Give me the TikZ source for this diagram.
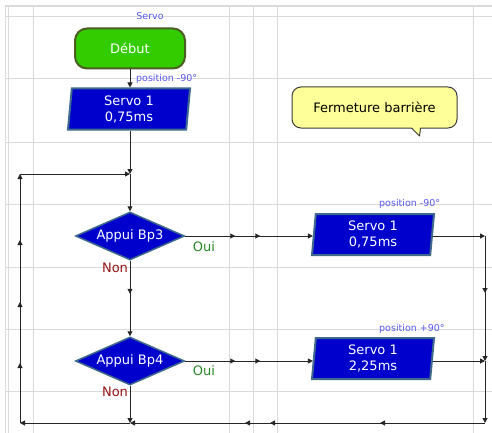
\documentclass[tikz,border=0pt]{standalone}
\usepackage{fontspec}
\setmainfont{DejaVu Sans}
\usetikzlibrary{arrows.meta,shapes.geometric,decorations.markings}
\definecolor{gridc}{RGB}{218,218,218}
\definecolor{boxblue}{RGB}{0,0,204}
\definecolor{boxedge}{RGB}{60,105,140}
\definecolor{startgreen}{RGB}{51,204,0}
\definecolor{startedge}{RGB}{75,95,35}
\definecolor{lblue}{RGB}{90,90,240}
\definecolor{ouic}{RGB}{40,135,40}
\definecolor{nonc}{RGB}{150,20,20}
\definecolor{notefill}{RGB}{255,255,153}
\definecolor{noteedge}{RGB}{60,60,60}
\tikzset{
  >={Triangle[length=5pt,width=5pt]},
  gridline/.style={draw=gridc,line width=1pt},
  conn/.style={draw=black!85,line width=1pt},
  mk/.style={postaction={decorate,decoration={markings,mark=at position #1 with {\arrow{>}}}}},
  mainfont/.style={font=\fontsize{13}{16}\selectfont},
  startbox/.style={draw=startedge,fill=startgreen,line width=2pt,rounded corners=12pt,
    minimum width=110pt,minimum height=40pt,inner sep=0pt,text=white,mainfont},
  servobox/.style={trapezium,trapezium left angle=82,trapezium right angle=98,trapezium stretches body,
    draw=boxedge,fill=boxblue,line width=2pt,minimum width=122pt,minimum height=41pt,inner sep=0pt,
    text=white,align=center,mainfont},
  testbox/.style={diamond,aspect=2.27,draw=boxedge,fill=boxblue,line width=1.5pt,
    minimum width=109pt,minimum height=48pt,inner sep=0pt,text=white,mainfont},
  small/.style={text=lblue,font=\fontsize{9.5}{11}\selectfont,inner sep=0pt},
  yes/.style={text=ouic,mainfont,inner sep=0pt},
  no/.style={text=nonc,mainfont,inner sep=0pt},
  note/.style={rectangle,rounded corners=9pt,draw=noteedge,fill=notefill,line width=1pt,
    minimum width=165pt,minimum height=41pt,inner sep=0pt,mainfont}
}
\begin{document}
\begin{tikzpicture}[x=1pt,y=-1pt]
\fill[white] (0,0) rectangle (492,433);
\useasboundingbox (0,0) rectangle (492,433);
% grid
\foreach \yy in {17,79,142,204,267,329,391} \draw[gridline] (5,\yy) -- (492,\yy);
\foreach \xx in {33,229,253,277,473} \draw[gridline] (\xx,5) -- (\xx,433);
\draw[gridline] (5.5,5) -- (5.5,433);
\draw[gridline] (8.5,5) -- (8.5,433);
\draw[draw=gridc,line width=2pt] (5,6) -- (492,6);
% nodes
\node[small] (lservo) at (150,16) {Servo};
\node[startbox] (debut) at (130,48.5) {Début};
\node[servobox] (s1) at (129,109) {Servo 1\\0,75ms};
\node[small,anchor=west] (lpos1) at (136,79) {position -90°};
\node[testbox] (d3) at (130,236) {Appui Bp3};
\node[testbox] (d4) at (130,361) {Appui Bp4};
\node[servobox] (b3) at (373,234.5) {Servo 1\\0,75ms};
\node[servobox] (b4) at (373,358.5) {Servo 1\\2,25ms};
\node[small,anchor=west] (lpos2) at (379,204) {position -90°};
\node[small,anchor=west] (lpos3) at (379,329) {position +90°};
\node[yes] (oui3) at (204,247) {Oui};
\node[yes] (oui4) at (204,371) {Oui};
\node[no] (non3) at (115,268) {Non};
\node[no] (non4) at (115,392) {Non};
\node[note] (fb) at (374.5,107.5) {Fermeture barrière};
% callout tail
\fill[notefill] (411.5,127) -- (419.5,136) -- (420.5,127) -- cycle;
\draw[draw=noteedge,line width=1pt,line join=round] (411.5,128) -- (419.5,136) -- (420.5,128);
% junctions
\coordinate (j1) at (130,174);
\coordinate (lt) at (20,174);
\coordinate (lb) at (20,423);
\coordinate (jb) at (130,423);
\coordinate (rb) at (485,423);
\coordinate (r1) at (485,236);
\coordinate (r2) at (485,361);
% connectors
\draw[conn,->] (debut.south) -- (s1.north -| debut.south);
\draw[conn,->] (s1.south -| j1) -- (j1);
\draw[conn,->] (j1) -- (d3.north);
\draw[conn,mk=50pt,mk=75pt,->] (d3.east) -- (b3.west |- d3.east);
\draw[conn,mk=33pt,->] (d3.south) -- (d4.north);
\draw[conn,mk=50pt,mk=75pt,->] (d4.east) -- (b4.west |- d4.east);
\draw[conn,->] (b3.east |- r1) -- (r1);
\draw[conn,->] (b4.east |- r2) -- (r2);
\draw[conn,mk=57pt,->] (r1) -- (r2);
\draw[conn,->] (r2) -- (rb);
\draw[conn,mk=105pt,mk=215pt,mk=240pt,->] (rb) -- (jb);
\draw[conn,->] (d4.south) -- (jb);
\draw[conn,->] (jb) -- (lb);
\draw[conn,mk=60pt,mk=121pt,mk=183pt,->] (lb) -- (lt);
\draw[conn,->] (lt) -- (j1);
\end{tikzpicture}
\end{document}
